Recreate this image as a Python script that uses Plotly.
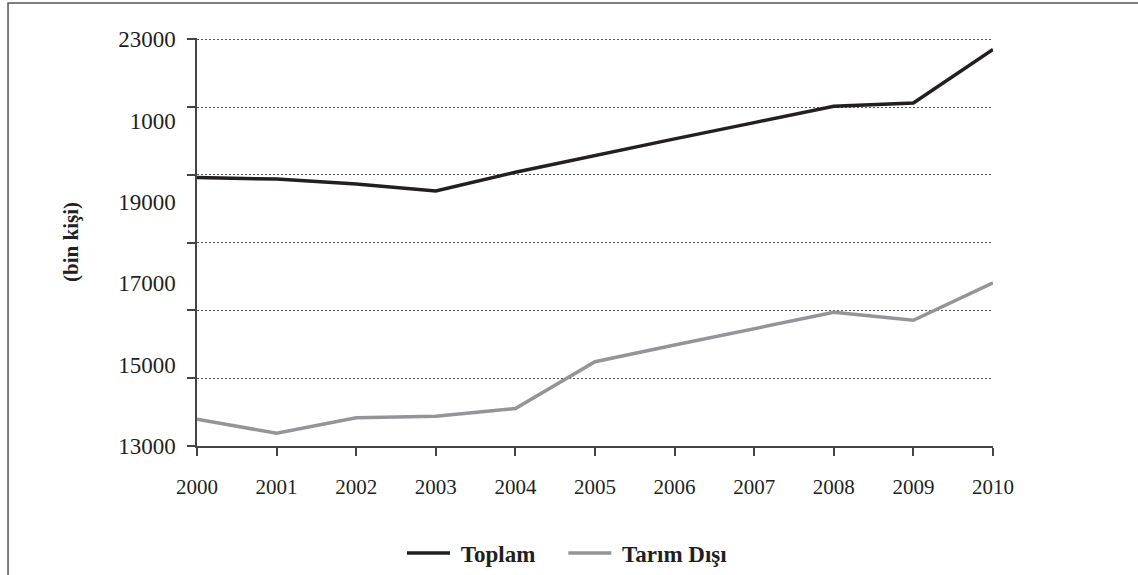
import plotly.graph_objects as go

years = [2000, 2001, 2002, 2003, 2004, 2005, 2006, 2007, 2008, 2009, 2010]
toplam = [19600, 19560, 19440, 19270, 19730, 20150, 20550, 20950, 21350, 21430, 22750]
tarim_disi = [13656, 13312, 13690, 13730, 13920, 15070, 15480, 15880, 16285, 16090, 17010]

label_vals = [13000, 15000, 17000, 19000, 21000, 23000]
label_text = ["13000", "15000", "17000", "19000", "1000", "23000"]
grid_vals = [13000 + k * 10000 / 6 for k in range(7)]
y_range = [12998, 23030]

FONT = "Liberation Serif"
NB = "\u00a0"

fig = go.Figure()
fig.add_trace(go.Scatter(x=years, y=toplam, mode="lines", name=NB + "Toplam" + NB * 4,
                         line=dict(color="#231f20", width=3.5)))
fig.add_trace(go.Scatter(x=years, y=tarim_disi, mode="lines", name=NB + "Tarım Dışı",
                         line=dict(color="#939598", width=3.5)))
# invisible trace to activate the grid axis
fig.add_trace(go.Scatter(x=[years[0]], y=[grid_vals[0]], yaxis="y2", mode="markers",
                         marker=dict(opacity=0), showlegend=False, hoverinfo="skip"))

fig.update_layout(
    width=1138, height=575,
    margin=dict(l=197, r=145, t=38, b=129),
    paper_bgcolor="white", plot_bgcolor="white",
    font=dict(family=FONT, color="#231f20"),
    xaxis=dict(range=[2000, 2010], tickvals=years, ticks="outside", ticklen=8,
               tickcolor="#444", tickwidth=1.5, showline=True, linecolor="#444",
               linewidth=1.5, showgrid=False, zeroline=False, ticklabelstandoff=13,
               tickfont=dict(family=FONT, size=21, color="#231f20")),
    yaxis=dict(range=y_range, tickvals=label_vals, ticktext=label_text,
               ticks="", ticklabelstandoff=15, showline=True, linecolor="#444",
               linewidth=1.5, showgrid=False, zeroline=False,
               tickfont=dict(family=FONT, size=23, color="#231f20"),
               title=dict(text="(bin kişi)", standoff=34,
                          font=dict(family=FONT, size=21, weight="bold", color="#231f20"))),
    yaxis2=dict(range=y_range, overlaying="y", side="left", tickvals=grid_vals,
                ticks="outside", ticklen=9, tickcolor="#444", tickwidth=1.5,
                showticklabels=False, showgrid=True, gridcolor="#555", gridwidth=1,
                griddash="2px,2px", showline=False, zeroline=False),
    legend=dict(orientation="h", x=567.5 / 1138, xref="container", y=(575 - 553) / 575,
                yref="container", xanchor="center", yanchor="middle",
                font=dict(family=FONT, size=23, weight="bold", color="#231f20"),
                itemwidth=43),
    showlegend=True,
)

fig.add_shape(type="rect", xref="paper", yref="paper",
              x0=-0.2374, x1=1.3, y0=-0.5, y1=1.086,
              line=dict(color="#555", width=1.5), fillcolor="rgba(0,0,0,0)", layer="below")

fig.write_html("out.html", config={"displayModeBar": False},
               post_script="document.body.style.margin='0';document.body.style.padding='0';")
